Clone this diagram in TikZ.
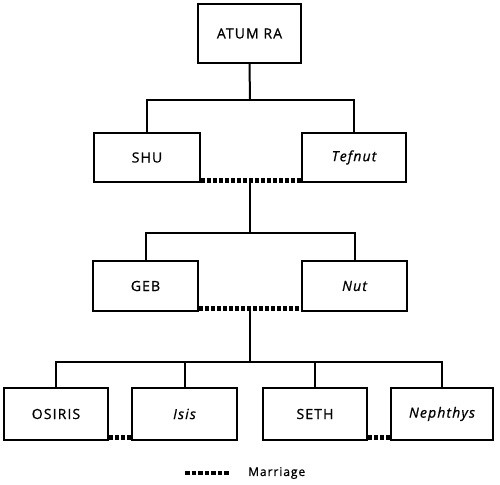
\documentclass[tikz,border=0pt]{standalone}
\usepackage{fontspec}
\setmainfont{Open Sans}[LetterSpace=8,FakeBold=0.8]
\begin{document}
\begin{tikzpicture}[x=1pt,y=-1pt,
  person/.style={draw,line width=1.9pt,rectangle,minimum height=50pt,font=\fontsize{14}{16}\selectfont,inner sep=0pt},
  conn/.style={line width=2pt},
  marriage/.style={line width=5pt,dash pattern=on 4pt off 2pt}]
\useasboundingbox (0,0) rectangle (500,484);
\node[person,minimum width=103pt,minimum height=59pt] (atum) at (249.5,33.5) {ATUM RA};
\node[person,minimum width=106pt,minimum height=49pt] (shu) at (147,157.5) {SHU};
\node[person,minimum width=104pt,minimum height=49pt] (tef) at (354,157.5) {\itshape Tefnut};
\node[person,minimum width=105pt] (geb) at (145.5,286) {GEB};
\node[person,minimum width=105pt] (nut) at (354.5,286) {\itshape Nut};
\node[person,minimum width=104pt,minimum height=52pt] (osiris) at (56,414) {OSIRIS};
\node[person,minimum width=105pt,minimum height=52pt] (isis) at (184.5,414) {\itshape Isis};
\node[person,minimum width=104pt,minimum height=52pt] (seth) at (315,414) {SETH};
\node[person,minimum width=102pt,minimum height=52pt] (neph) at (442,414) {\itshape Nephthys};
% junctions
\coordinate (j1) at (250,100);
\coordinate (m1) at (250,180);
\coordinate (j2) at (250,233);
\coordinate (m2) at (250,308);
\coordinate (j3) at (250,362);
% generation 1
\draw[conn] (atum.south) -- (j1);
\draw[conn] (shu.north) |- (j1) -| (tef.north);
% marriage shu-tefnut
\path (shu.south east) ++(0,-2.5) coordinate (m1a);
\path (tef.south west) ++(0,-2.5) coordinate (m1b);
\draw[marriage] (m1a) -- (m1b);
\draw[conn] (m1) -- (j2);
\draw[conn] (geb.north) |- (j2) -| (nut.north);
% marriage geb-nut
\path (geb.south east) ++(0,-3) coordinate (m2a);
\path (nut.south west) ++(0,-3) coordinate (m2b);
\draw[marriage] (m2a) -- (m2b);
\draw[conn] (m2) -- (j3);
\coordinate (j3l) at (osiris.north |- j3);
\coordinate (j3r) at (neph.north |- j3);
\draw[conn] (osiris.north) -- (j3l) -- (j3r) -- (neph.north);
\draw[conn] (isis.north) -- (isis.north |- j3);
\draw[conn] (seth.north) -- (seth.north |- j3);
% marriages bottom
\path (osiris.south east) ++(0,-3) coordinate (m3a);
\path (isis.south west) ++(0,-3) coordinate (m3b);
\draw[marriage] (m3a) -- (m3b);
\path (seth.south east) ++(0,-3) coordinate (m4a);
\path (neph.south west) ++(0,-3) coordinate (m4b);
\draw[marriage] (m4a) -- (m4b);
% legend
\coordinate (la) at (185,473);
\coordinate (lb) at (230,473);
\draw[line width=4.5pt,dash pattern=on 4.5pt off 2pt] (la) -- (lb);
\node[anchor=west,inner sep=0pt,font=\fontsize{12}{14}\selectfont] (leg) at (248,473) {Marriage};
\end{tikzpicture}
\end{document}
